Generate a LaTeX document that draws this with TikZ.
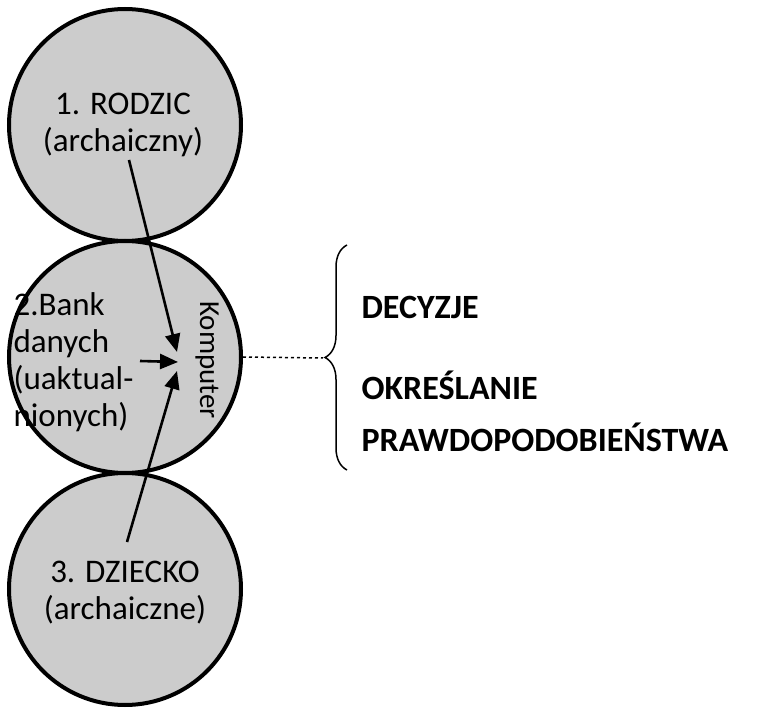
\documentclass[tikz,border=0pt]{standalone}
\usepackage{fontspec}
\setmainfont{Carlito}
\usetikzlibrary{decorations.pathreplacing,arrows.meta}
\tikzset{
    ball/.style={circle, draw, line width=4pt, fill=gray!40, minimum size=232pt, inner sep=0pt},
    balltext/.style={font=\fontsize{33}{37}\selectfont, align=center},
    headline/.style={font=\fontsize{34}{40}\selectfont\bfseries, anchor=west},
    feed/.style={line width=2.6pt, -{Triangle[length=18pt,width=15pt]}}
}
\begin{document}
\begin{tikzpicture}[x=1pt,y=-1pt]
    \useasboundingbox (0,0) rectangle (764,714);

    % three circles
    \node[ball] (parent) at (125,125) {};
    \node[ball] (bank) at (125,357) {};
    \node[ball] (child) at (125,589) {};

    \node[balltext] (parentlbl) at (123,125) {1. RODZIC\\(archaiczny)};
    \node[balltext, align=left, anchor=west] (banklbl) at (10,362) {2.Bank\\danych\\(uaktual-\\nionych)};
    \node[balltext] (childlbl) at (125,593) {3. DZIECKO\\(archaiczne)};
    \node[balltext, font=\fontsize{29}{30}\selectfont, rotate=-90] (pc) at (207,360) {Komputer};

    % arrows into the computer
    \coordinate (hub) at (178,362);
    \coordinate (topstart) at (129,160);
    \coordinate (botstart) at (127,542);
    \coordinate (leftstart) at (140,361);
    \draw[feed] (topstart) -- (177,352);
    \draw[feed] (botstart) -- (177,371);
    \draw[feed] (leftstart) -- (hub);

    % brace and outcomes
    \coordinate (btop) at (347,245);
    \coordinate (bbot) at (347,470);
    \draw[line width=1.5pt, decorate, decoration={brace, amplitude=22pt}] (bbot) -- (btop);
    \coordinate (tip) at (323,358);
    \draw[dashed, line width=1.5pt] (bank.east) -- (tip);

    \node[headline] (dec) at (358,307) {DECYZJE};
    \node[headline] (ok) at (358,385) {OKREŚLANIE};
    \node[headline] (prob) at (358,437) {PRAWDOPODOBIEŃSTWA};
\end{tikzpicture}
\end{document}
